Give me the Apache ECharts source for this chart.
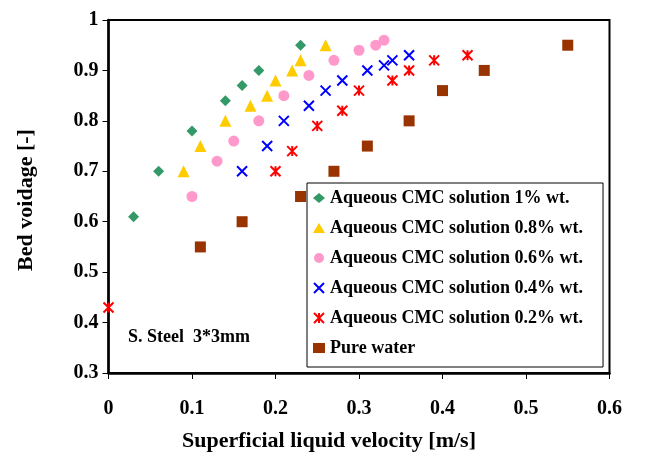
<!DOCTYPE html>
<html>
<head>
<meta charset="utf-8">
<script src="https://cdn.jsdelivr.net/npm/echarts@6/dist/echarts.min.js"></script>
<style>
  html, body { margin: 0; padding: 0; background: #fff; }
  #chart { width: 645px; height: 454px; }
</style>
</head>
<body>
<div id="chart"></div>
<script>
// Bed voidage vs superficial liquid velocity, [velocity m/s, voidage]
const cmc10 = [[0.03,0.61],[0.06,0.70],[0.10,0.78],[0.14,0.84],[0.16,0.87],[0.18,0.90],[0.23,0.95]];
const cmc08 = [[0.09,0.70],[0.11,0.75],[0.14,0.80],[0.17,0.83],[0.19,0.85],[0.20,0.88],[0.22,0.90],[0.23,0.92],[0.26,0.95]];
const cmc06 = [[0.10,0.65],[0.13,0.72],[0.15,0.76],[0.18,0.80],[0.21,0.85],[0.24,0.89],[0.27,0.92],[0.30,0.94],[0.32,0.95],[0.33,0.96]];
const cmc04 = [[0.16,0.70],[0.19,0.75],[0.21,0.80],[0.24,0.83],[0.26,0.86],[0.28,0.88],[0.31,0.90],[0.33,0.91],[0.34,0.92],[0.36,0.93]];
const cmc02 = [[0.00,0.43],[0.20,0.70],[0.22,0.74],[0.25,0.79],[0.28,0.82],[0.30,0.86],[0.34,0.88],[0.36,0.90],[0.39,0.92],[0.43,0.93]];
const water = [[0.11,0.55],[0.16,0.60],[0.23,0.65],[0.27,0.70],[0.31,0.75],[0.36,0.80],[0.40,0.86],[0.45,0.90],[0.55,0.95]];

const seriesNames = [
  'Aqueous CMC solution 1% wt.',
  'Aqueous CMC solution 0.8% wt.',
  'Aqueous CMC solution 0.6% wt.',
  'Aqueous CMC solution 0.4% wt.',
  'Aqueous CMC solution 0.2% wt.',
  'Pure water'
];

const SERIF = "'Liberation Serif', 'Times New Roman', serif";
const CROSS = 'path://M0,0L10,10M10,0L0,10';
const STAR = 'path://M0,0L10,10M10,0L0,10M5,0L5,10';

const chart = echarts.init(document.getElementById('chart'), null, { renderer: 'canvas' });

function filled(name, data, symbol, size, color) {
  return {
    type: 'scatter', name, data, symbol, symbolSize: size,
    itemStyle: { color, opacity: 1 },
    emphasis: { disabled: true }
  };
}
function stroked(name, data, symbol, size, color) {
  return {
    type: 'scatter', name, data, symbol, symbolSize: size,
    itemStyle: { color: color, borderColor: color, borderWidth: 2, opacity: 1 },
    emphasis: { disabled: true }
  };
}

chart.setOption({
  animation: false,
  backgroundColor: '#fff',
  grid: {
    left: 108.5, right: 35.5, top: 20, bottom: 81,
    show: true, borderColor: '#000', borderWidth: 2, backgroundColor: 'transparent'
  },
  xAxis: {
    type: 'value', min: 0, max: 0.6, interval: 0.1,
    axisLine: { onZero: false, lineStyle: { color: '#000', width: 2.5 } },
    axisTick: { show: true, length: 6, lineStyle: { color: '#000', width: 1 } },
    axisLabel: { color: '#000', fontFamily: SERIF, fontWeight: 'bold', fontSize: 20, margin: 26 },
    splitLine: { show: false }
  },
  yAxis: {
    type: 'value', min: 0.3, max: 1, interval: 0.1,
    axisLine: { show: true, onZero: false, lineStyle: { color: '#000', width: 2.5 } },
    axisTick: { show: true, length: 6, lineStyle: { color: '#000', width: 1 } },
    axisLabel: { color: '#000', fontFamily: SERIF, fontWeight: 'bold', fontSize: 20, margin: 10 },
    splitLine: { show: false }
  },
  legend: {
    orient: 'vertical', left: 307, top: 183,
    backgroundColor: '#fff', borderColor: '#000', borderWidth: 1,
    padding: [5, 20, 9, 6], itemGap: 10, itemWidth: 12, itemHeight: 10,
    textStyle: { color: '#000', fontFamily: SERIF, fontWeight: 'bold', fontSize: 18, lineHeight: 20 },
    data: seriesNames
  },
  graphic: [
    {
      type: 'text', left: 128, top: 328,
      style: { text: 'S. Steel  3*3mm', fill: '#000', font: 'bold 18px ' + SERIF }
    },
    {
      type: 'text', x: 329, y: 441,
      style: { text: 'Superficial liquid velocity [m/s]', fill: '#000', font: 'bold 22px ' + SERIF,
               align: 'center', verticalAlign: 'middle' }
    },
    {
      type: 'text', x: 26, y: 200, rotation: Math.PI / 2,
      style: { text: 'Bed voidage [-]', fill: '#000', font: 'bold 22px ' + SERIF,
               align: 'center', verticalAlign: 'middle' }
    }
  ],
  series: [
    filled(seriesNames[0], cmc10, 'diamond', 11, '#339966'),
    filled(seriesNames[1], cmc08, 'triangle', 12, '#FFCC00'),
    filled(seriesNames[2], cmc06, 'circle', 11, '#FF99CC'),
    stroked(seriesNames[3], cmc04, CROSS, 10, '#0000FF'),
    stroked(seriesNames[4], cmc02, STAR, 10, '#FF0000'),
    filled(seriesNames[5], water, 'rect', 11, '#993300')
  ]
});
</script>
</body>
</html>
